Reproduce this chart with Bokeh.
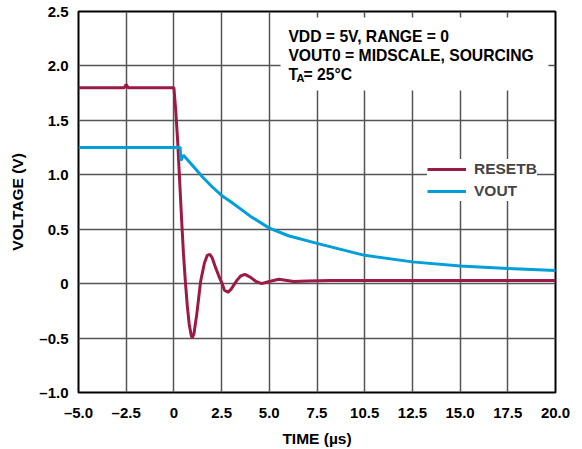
from bokeh.plotting import figure
from bokeh.models import FixedTicker, Range1d, BoxAnnotation, Label, Legend, LegendItem
from bokeh.embed import file_html
from bokeh.resources import INLINE

# ---- data ----
reset_t = [-5.0, -4.0, -3.0, -2.6, -2.5, -2.4, -1.0, 0.0, 0.1, 0.2, 0.3, 0.4, 0.5, 0.6, 0.7,
           0.8, 0.9, 0.96, 1.05, 1.2, 1.4, 1.6, 1.75, 1.88, 2.0, 2.2, 2.4, 2.53, 2.65, 2.83,
           3.0, 3.3, 3.5, 3.72, 4.0, 4.3, 4.59, 5.0, 5.5, 6.28, 7.0, 8.2, 10.0, 15.0, 20.0]
reset_v = [1.80, 1.80, 1.80, 1.80, 1.83, 1.80, 1.80, 1.80, 1.58, 1.30, 0.95, 0.60, 0.28, 0.02, -0.20,
           -0.37, -0.47, -0.50, -0.46, -0.28, 0.02, 0.19, 0.26, 0.27, 0.24, 0.14, 0.05, 0.0, -0.06, -0.08,
           -0.05, 0.03, 0.07, 0.085, 0.06, 0.02, 0.0, 0.02, 0.04, 0.02, 0.025, 0.03, 0.03, 0.03, 0.03]

vout_t = [-5.0, -2.5, 0.0, 0.33, 0.36, 0.42, 0.5, 1.0, 1.5, 2.0, 2.5, 3.0, 4.0, 5.0, 6.0,
          7.5, 10.0, 12.5, 15.0, 17.5, 20.0]
vout_v = [1.25, 1.25, 1.25, 1.25, 1.13, 1.15, 1.18, 1.08, 0.98, 0.89, 0.81, 0.75, 0.62, 0.51, 0.44,
          0.37, 0.26, 0.20, 0.163, 0.139, 0.12]

x_ticks = [-5.0, -2.5, 0.0, 2.5, 5.0, 7.5, 10.0, 12.5, 15.0, 17.5, 20.0]
x_tick_labels = ["–5.0", "–2.5", "0", "2.5", "5.0", "7.5", "10.5", "12.5", "15.0", "17.5", "20.0"]
y_ticks = [-1.0, -0.5, 0.0, 0.5, 1.0, 1.5, 2.0, 2.5]
y_tick_labels = ["–1.0", "–0.5", "0", "0.5", "1.0", "1.5", "2.0", "2.5"]

series_names = ["RESETB", "VOUT"]
RED = "#9C1A46"
BLUE = "#009FDA"
FONT = "Liberation Sans"

p = figure(frame_width=477, frame_height=381,
           min_border_left=78, min_border_right=20, min_border_top=11, min_border_bottom=52,
           x_range=Range1d(-5, 20), y_range=Range1d(-1, 2.5),
           output_backend="svg", toolbar_location=None)

p.background_fill_color = "white"
p.outline_line_color = "black"
p.outline_line_width = 2

for ax in (p.xaxis[0], p.yaxis[0]):
    ax.axis_line_color = None
    ax.major_tick_line_color = None
    ax.minor_tick_line_color = None
    ax.major_tick_out = 0
    ax.major_tick_in = 0
    ax.major_label_text_font = FONT
    ax.major_label_text_font_style = "bold"
    ax.major_label_text_font_size = "15px"
    ax.major_label_text_color = "black"
    ax.axis_label_text_font = FONT
    ax.axis_label_text_font_style = "bold"
    ax.axis_label_text_font_size = "15.5px"
    ax.axis_label_text_color = "black"

p.xaxis.ticker = FixedTicker(ticks=x_ticks)
p.xaxis.major_label_overrides = dict(zip(x_ticks, x_tick_labels))
p.yaxis.ticker = FixedTicker(ticks=y_ticks)
p.yaxis.major_label_overrides = dict(zip(y_ticks, y_tick_labels))
p.xaxis.axis_label = "TIME (µs)"
p.yaxis.axis_label = "VOLTAGE (V)"
p.xaxis.major_label_standoff = 11
p.yaxis.major_label_standoff = 10
p.xaxis.axis_label_standoff = 6
p.yaxis.axis_label_standoff = 10

for g in (p.xgrid[0], p.ygrid[0]):
    g.grid_line_color = "#555555"
    g.grid_line_width = 1.5

# white panel behind the condition text
p.add_layout(BoxAnnotation(left=5.59, right=19.63, top=2.445, bottom=1.775,
                           fill_color="white", fill_alpha=1.0, line_color=None, level="underlay"))

r1 = p.line(reset_t, reset_v, line_color=RED, line_width=3)
r2 = p.line(vout_t, vout_v, line_color=BLUE, line_width=3)

legend = Legend(items=[LegendItem(label=series_names[0], renderers=[r1]),
                       LegendItem(label=series_names[1], renderers=[r2])],
                location=(349, 191), padding=8, margin=0, spacing=2,
                glyph_width=39, glyph_height=20, label_height=20, label_standoff=8,
                label_text_font=FONT, label_text_font_style="bold", label_text_font_size="15.5px",
                border_line_color=None, background_fill_color="white", background_fill_alpha=1.0)
p.add_layout(legend, "center")

def lab(x, y, text, size="15.7px"):
    p.add_layout(Label(x=x, y=y, text=text, text_font=FONT, text_font_style="bold",
                       text_font_size=size, text_color="black", text_baseline="alphabetic"))

lab(6.0, 2.273, "VDD = 5V, RANGE = 0")
lab(6.0, 2.096, "VOUT0 = MIDSCALE, SOURCING")
lab(6.0, 1.918, "T")
lab(6.43, 1.886, "A", size="11px")
lab(6.79, 1.918, "= 25°C")

open("out.html", "w").write(file_html(p, INLINE))
